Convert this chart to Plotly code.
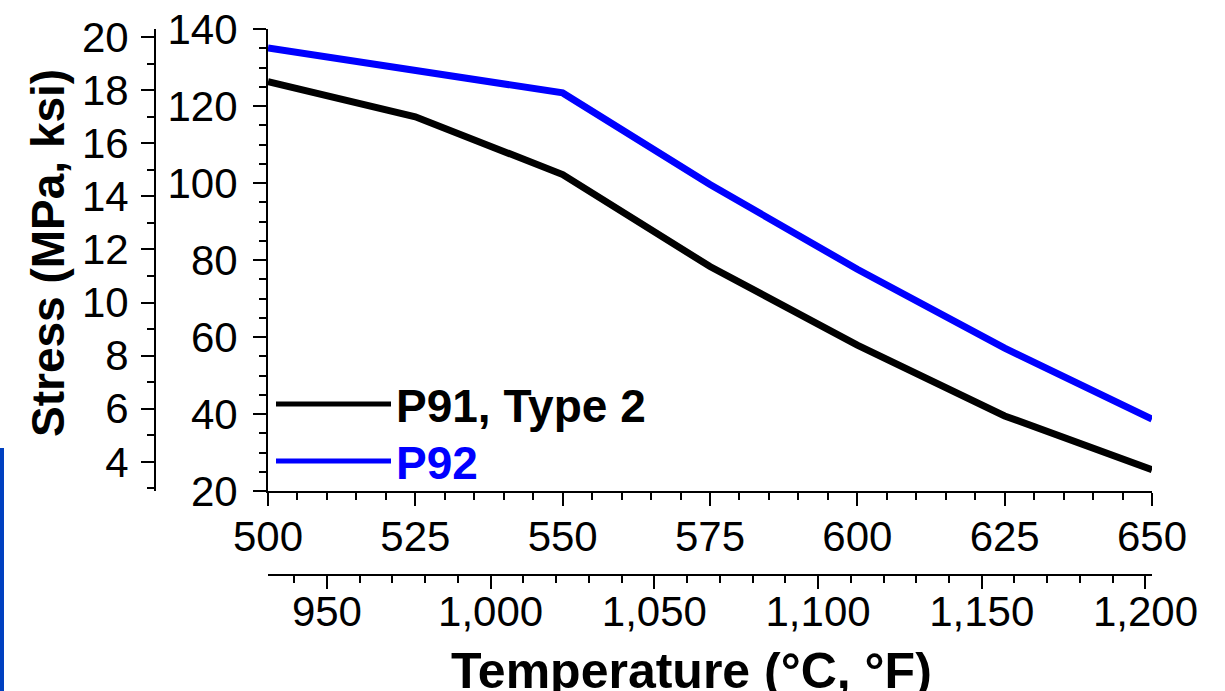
import plotly.graph_objects as go

# Data
temps_c = [500, 525, 550, 575, 600, 625, 650]
p91_type2_mpa = [126.3, 117.2, 102.2, 78.3, 57.9, 39.5, 25.5]
p92_mpa = [135.1, 129.1, 123.4, 99.6, 77.6, 57.1, 38.7]
series_names = ["P91, Type 2", "P92"]
series_colors = ["#000000", "#0000FF"]
x_title = "Temperature (°C, °F)"
y_title = "Stress (MPa, ksi)"

MPA_PER_KSI = 6.894757
c_range = [500, 650]
mpa_range = [20, 140]
f_range = [c_range[0] * 1.8 + 32, c_range[1] * 1.8 + 32]
ksi_range = [mpa_range[0] / MPA_PER_KSI, mpa_range[1] / MPA_PER_KSI]

FONT = "Liberation Sans, Arial, sans-serif"
TICK_FONT = dict(family=FONT, size=42, color="black")
XTITLE_FONT = dict(family=FONT, size=50, color="black")
YTITLE_FONT = dict(family=FONT, size=46, color="black")

W, H = 1225, 691
L, R, T, B = 155, 73, 29, 116
plot_w = W - L - R
plot_h = H - T - B


def pxx(px):
    return (px - L) / plot_w


def pxy(py):
    return (H - B - py) / plot_h


x_dom0 = pxx(268)
y_dom0 = pxy(491)

fig = go.Figure()
legend_ids = ["legend", "legend2"]
for name, vals, col, lg in zip(series_names, [p91_type2_mpa, p92_mpa], series_colors, legend_ids):
    fig.add_trace(go.Scatter(
        x=temps_c, y=vals, mode="lines",
        name=f"<b><span style='color:{col}'>{name}</span></b>",
        line=dict(color=col, width=7),
        xaxis="x", yaxis="y", legend=lg,
    ))

axis_common = dict(
    showline=True, linecolor="black", linewidth=2,
    ticks="outside", ticklen=13, tickwidth=2, tickcolor="black",
    showgrid=False, zeroline=False, tickfont=TICK_FONT, automargin=False,
)
minor_common = dict(ticks="outside", ticklen=7, tickwidth=2, tickcolor="black", showgrid=False)

legend_common = dict(
    xanchor="left", yanchor="middle",
    bgcolor="rgba(0,0,0,0)", font=dict(family=FONT, size=46, color="black"),
    itemwidth=115, tracegroupgap=0, itemsizing="constant", borderwidth=0,
)

fig.update_layout(
    width=W, height=H, autosize=False,
    margin=dict(l=L, r=R, t=T, b=B, pad=0, autoexpand=False),
    paper_bgcolor="white", plot_bgcolor="white",
    showlegend=True,
    legend=dict(x=pxx(271), y=pxy(404), **legend_common),
    legend2=dict(x=pxx(271), y=pxy(461), **legend_common),
    xaxis=dict(
        domain=[x_dom0, 1], range=c_range, anchor="y",
        tickmode="linear", tick0=500, dtick=25, ticklabelstandoff=-5,
        minor=dict(dtick=5, **minor_common),
        **axis_common,
    ),
    xaxis2=dict(
        domain=[x_dom0, 1], range=f_range, overlaying="x", anchor="free", position=0,
        side="bottom", tickmode="linear", tick0=950, dtick=50, tickformat=",d",
        ticklabelstandoff=-13,
        minor=dict(dtick=10, tick0=950, **minor_common),
        **axis_common,
    ),
    yaxis=dict(
        domain=[y_dom0, 1], range=mpa_range, anchor="x",
        tickmode="linear", tick0=20, dtick=20, ticklabelstandoff=7,
        minor=dict(dtick=5, **minor_common),
        **axis_common,
    ),
    yaxis2=dict(
        domain=[y_dom0, 1], range=ksi_range, overlaying="y", anchor="free", position=0,
        side="left", tickmode="linear", tick0=4, dtick=2, ticklabelstandoff=4,
        minor=dict(dtick=1, tick0=3, **minor_common),
        **axis_common,
    ),
    annotations=[
        dict(text=f"<b>{x_title}</b>", xref="paper", yref="paper",
             x=pxx(691), y=pxy(671), xanchor="center", yanchor="middle",
             showarrow=False, font=XTITLE_FONT),
        dict(text=f"<b>{y_title}</b>", xref="paper", yref="paper",
             x=pxx(48), y=pxy(253), xanchor="center", yanchor="middle",
             textangle=-90, showarrow=False, font=YTITLE_FONT),
    ],
)

# dummy invisible traces so secondary axes render
fig.add_trace(go.Scatter(x=f_range, y=[None, None], xaxis="x2", yaxis="y", showlegend=False, hoverinfo="skip"))
fig.add_trace(go.Scatter(x=[None, None], y=ksi_range, xaxis="x", yaxis="y2", showlegend=False, hoverinfo="skip"))

# decorative edge strip seen at the left of the source image
fig.add_shape(type="rect", xref="paper", yref="paper",
              x0=pxx(0), x1=pxx(4), y0=pxy(691), y1=pxy(448),
              fillcolor="#0040C0", line=dict(width=0), layer="above")

fig.write_html(
    "out.html",
    config={"displayModeBar": False},
    post_script="document.body.style.margin='0';document.body.style.overflow='hidden';",
)
